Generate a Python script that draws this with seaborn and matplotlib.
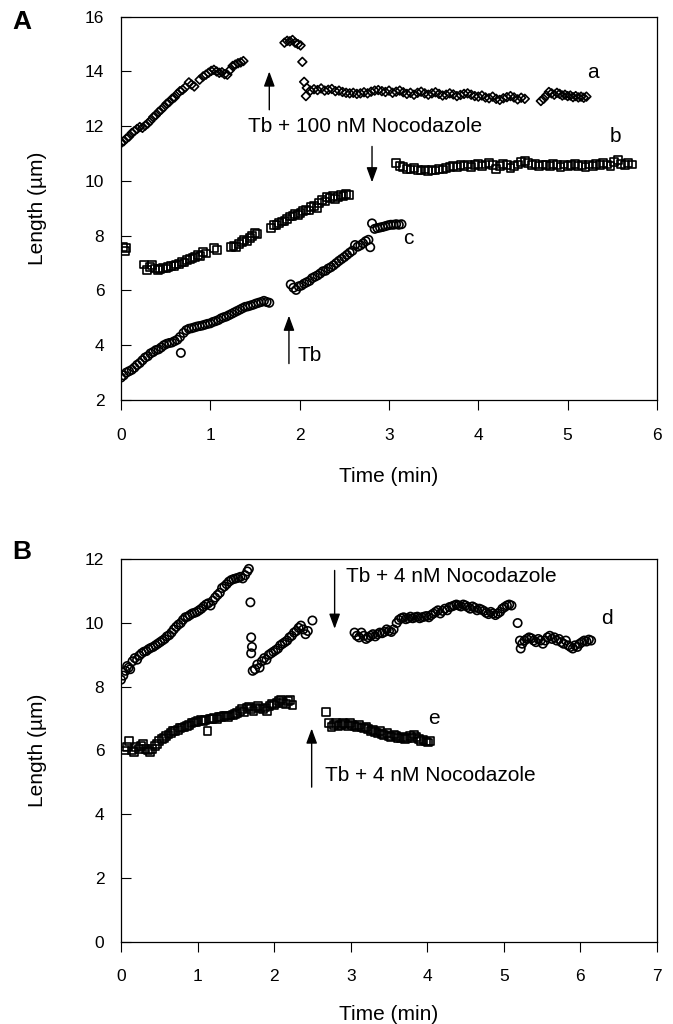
import matplotlib
matplotlib.use("Agg")
import matplotlib.pyplot as plt
import seaborn as sns
import pandas as pd

# ---------------- Panel A data ----------------
a_time = [0.00,0.03,0.06,0.09,0.12,0.15,0.18,0.21,0.24,0.27,0.30,0.33,0.36,0.39,0.42,0.45,0.48,0.51,0.54,0.57,
          0.60,0.63,0.66,0.69,0.72,0.76,0.79,0.82,0.88,0.92,0.95,0.98,1.01,1.04,1.07,1.10,1.13,1.16,1.19,1.22,
          1.25,1.28,1.31,1.34,1.37,
          1.83,1.86,1.89,1.92,1.95,1.98,2.01,2.03,2.05,2.07,
          2.08,2.12,2.16,2.20,2.24,2.28,2.32,2.36,2.40,2.44,2.48,2.52,2.56,2.60,2.64,2.68,2.72,2.76,2.80,2.84,
          2.88,2.92,2.96,3.00,3.04,3.08,3.12,3.16,3.20,3.24,3.28,3.32,3.36,3.40,3.44,3.48,3.52,3.56,3.60,3.64,
          3.68,3.72,3.76,3.80,3.84,3.88,3.92,3.96,4.00,4.04,4.08,4.12,4.16,4.20,4.24,4.28,4.32,4.36,4.40,4.44,
          4.48,4.52,
          4.70,4.73,4.76,4.79,4.82,4.85,4.88,4.91,4.94,4.97,5.00,5.03,5.06,5.09,5.12,5.15,5.18,5.21]
a_len = [11.38,11.45,11.55,11.62,11.75,11.82,11.90,11.97,11.94,12.02,12.10,12.20,12.33,12.40,12.52,12.60,12.70,12.82,12.88,13.00,
         13.05,13.18,13.28,13.33,13.42,13.60,13.52,13.45,13.70,13.82,13.88,13.95,14.02,14.06,14.00,13.95,13.97,13.90,13.88,14.05,
         14.20,14.25,14.30,14.33,14.38,
         15.05,15.12,15.10,15.15,15.05,15.00,14.95,14.35,13.62,13.10,
         13.40,13.30,13.35,13.32,13.38,13.30,13.33,13.36,13.28,13.30,13.25,13.22,13.20,13.22,13.18,13.20,13.24,13.20,13.26,13.30,
         13.32,13.28,13.25,13.30,13.22,13.26,13.30,13.24,13.18,13.22,13.15,13.22,13.26,13.20,13.15,13.20,13.24,13.18,13.12,13.15,
         13.20,13.16,13.10,13.14,13.18,13.20,13.15,13.10,13.08,13.12,13.05,13.02,13.08,13.00,12.96,13.02,13.06,13.10,13.05,12.98,
         13.04,13.00,
         12.92,13.00,13.12,13.25,13.20,13.15,13.22,13.18,13.12,13.15,13.10,13.12,13.06,13.10,13.05,13.08,13.04,13.08]

b_time = [0.02,0.04,0.06,
          0.26,0.29,0.32,0.35,0.38,0.41,0.44,0.47,0.50,0.53,0.56,0.59,0.62,0.65,0.68,0.71,0.74,0.77,0.80,0.83,
          0.86,0.89,0.92,0.95,1.04,1.07,
          1.23,1.26,1.29,1.32,1.35,1.38,1.41,1.44,1.47,1.50,1.52,
          1.68,1.71,1.74,1.77,1.80,1.83,1.86,1.89,1.92,1.95,1.98,2.01,2.04,2.07,2.10,2.13,2.16,2.19,2.22,2.25,
          2.28,2.31,2.34,2.37,2.40,2.43,2.46,2.49,2.52,2.55,
          3.08,3.12,3.16,3.20,3.24,3.28,3.32,3.36,3.40,3.44,3.48,3.52,3.56,3.60,3.64,3.68,3.72,3.76,3.80,3.84,
          3.88,3.92,3.96,4.00,4.04,4.08,4.12,4.16,4.20,4.24,4.28,4.32,4.36,4.40,4.44,4.48,4.52,4.56,4.60,4.64,
          4.68,4.72,4.76,4.80,4.84,4.88,4.92,4.96,5.00,5.04,5.08,5.12,5.16,5.20,5.24,5.28,5.32,5.36,5.40,5.44,
          5.48,5.52,5.56,5.60,5.64,5.68,5.72]
b_len = [7.58,7.45,7.55,
         6.95,6.75,6.85,6.92,6.80,6.75,6.78,6.82,6.80,6.85,6.90,6.88,6.95,6.98,7.05,7.02,7.10,7.15,7.20,7.22,
         7.30,7.25,7.40,7.35,7.55,7.48,
         7.58,7.62,7.60,7.70,7.78,7.85,7.82,7.92,8.00,8.10,8.05,
         8.28,8.38,8.40,8.45,8.52,8.55,8.62,8.70,8.72,8.78,8.75,8.82,8.90,8.95,8.92,9.05,9.10,9.02,9.20,9.30,
         9.25,9.40,9.38,9.45,9.35,9.42,9.48,9.45,9.52,9.50,
         10.65,10.55,10.50,10.45,10.42,10.48,10.40,10.38,10.42,10.35,10.40,10.38,10.45,10.42,10.48,10.50,10.55,10.52,10.58,10.55,
         10.60,10.52,10.58,10.62,10.55,10.60,10.65,10.58,10.45,10.55,10.62,10.58,10.48,10.55,10.60,10.68,10.72,10.65,10.58,10.62,
         10.55,10.60,10.58,10.55,10.62,10.58,10.52,10.60,10.55,10.58,10.62,10.55,10.58,10.52,10.60,10.55,10.62,10.58,10.65,10.60,
         10.55,10.70,10.75,10.62,10.58,10.65,10.60]

c_time = [0.00,0.03,0.06,0.09,0.12,0.15,0.18,0.21,0.24,0.27,0.30,0.33,0.36,0.39,0.42,0.45,0.48,0.51,0.54,0.57,
          0.60,0.63,0.66,0.67,0.70,0.73,0.76,0.79,0.82,0.85,0.88,0.91,0.94,0.97,1.00,1.03,1.06,1.09,1.12,1.15,
          1.18,1.21,1.24,1.27,1.30,1.33,1.36,1.39,1.42,1.45,1.48,1.51,1.54,1.57,1.60,1.63,1.66,
          1.90,1.93,1.96,1.99,2.02,2.05,2.08,2.11,2.14,2.17,2.20,2.23,2.26,2.29,2.32,2.35,2.38,2.41,2.44,2.47,
          2.50,2.53,2.56,2.59,2.62,2.65,2.68,2.71,2.74,2.77,2.79,2.81,2.84,2.87,2.90,2.93,2.96,2.99,3.02,3.05,
          3.08,3.11,3.14]
c_len = [2.82,2.90,3.00,3.05,3.10,3.18,3.28,3.35,3.45,3.55,3.60,3.70,3.75,3.82,3.85,3.92,4.00,4.05,4.08,4.10,
         4.15,4.20,4.30,3.72,4.45,4.55,4.60,4.62,4.65,4.68,4.70,4.72,4.75,4.78,4.80,4.85,4.88,4.92,4.98,5.02,
         5.05,5.10,5.15,5.20,5.25,5.30,5.35,5.40,5.42,5.45,5.48,5.52,5.55,5.58,5.62,5.58,5.55,
         6.22,6.10,6.02,6.15,6.18,6.25,6.30,6.35,6.45,6.50,6.55,6.62,6.70,6.72,6.80,6.85,6.92,7.00,7.08,7.15,
         7.22,7.30,7.38,7.45,7.66,7.60,7.65,7.72,7.80,7.85,7.58,8.45,8.25,8.28,8.30,8.32,8.35,8.38,8.40,8.40,
         8.42,8.40,8.42]

# ---------------- Panel B data ----------------
d_time = [0.00,0.03,0.06,0.08,0.10,0.12,0.15,0.18,0.21,0.24,0.27,0.30,0.33,0.36,0.39,0.42,0.45,0.48,0.51,0.54,
          0.57,0.60,0.63,0.66,0.69,0.72,0.75,0.78,0.81,0.84,0.87,0.90,0.93,0.96,0.99,1.02,1.05,1.08,1.11,1.14,
          1.17,1.20,1.23,1.26,1.29,1.32,1.35,1.38,1.41,1.44,1.47,1.50,1.53,1.56,1.59,1.62,1.65,1.67,
          1.69,1.70,1.71,1.70,1.72,1.75,1.78,1.81,1.84,1.87,1.90,1.93,1.96,1.99,2.02,2.05,2.08,2.11,2.14,2.17,
          2.20,2.23,2.26,2.29,2.32,2.35,2.38,2.41,2.44,2.50,
          3.05,3.08,3.11,3.14,3.17,3.20,3.23,3.26,3.29,3.32,3.35,3.38,3.41,3.44,3.47,3.50,3.53,3.56,3.60,3.63,
          3.66,3.69,3.72,3.75,3.78,3.81,3.84,3.87,3.90,3.93,3.96,3.99,4.02,4.05,4.08,4.11,4.14,4.17,4.20,4.23,
          4.26,4.29,4.32,4.35,4.38,4.41,4.44,4.47,4.50,4.53,4.56,4.59,4.62,4.65,4.68,4.71,4.74,4.77,4.80,4.83,
          4.86,4.89,4.92,4.95,4.98,5.01,5.04,5.07,5.10,
          5.18,5.21,5.22,5.24,5.27,5.30,5.33,5.36,5.39,5.42,5.45,5.48,5.51,5.54,5.57,5.60,5.63,5.66,5.69,5.72,
          5.75,5.78,5.81,5.84,5.87,5.90,5.93,5.96,5.99,6.02,6.05,6.08,6.11,6.14]
d_len = [8.22,8.35,8.50,8.65,8.60,8.55,8.80,8.90,8.85,8.98,9.05,9.10,9.12,9.18,9.22,9.25,9.30,9.35,9.40,9.45,
         9.50,9.58,9.62,9.70,9.80,9.88,9.95,10.00,10.10,10.18,10.20,10.25,10.30,10.32,10.35,10.40,10.45,10.52,10.58,10.62,
         10.55,10.70,10.80,10.88,10.95,11.10,11.15,11.22,11.30,11.35,11.38,11.40,11.42,11.45,11.40,11.50,11.62,11.70,
         10.65,9.55,9.25,9.05,8.50,8.55,8.70,8.60,8.80,8.90,8.85,9.00,9.05,9.10,9.15,9.20,9.30,9.35,9.40,9.45,
         9.55,9.60,9.70,9.75,9.85,9.92,9.80,9.65,9.75,10.08,
         9.70,9.60,9.55,9.70,9.60,9.50,9.55,9.60,9.65,9.58,9.65,9.70,9.68,9.72,9.80,9.75,9.72,9.80,10.00,10.10,
         10.15,10.18,10.12,10.15,10.20,10.15,10.18,10.20,10.15,10.18,10.20,10.22,10.18,10.25,10.30,10.35,10.40,10.30,10.38,10.45,
         10.40,10.50,10.52,10.55,10.58,10.55,10.52,10.58,10.55,10.50,10.45,10.52,10.48,10.40,10.45,10.42,10.38,10.32,10.28,10.35,
         10.30,10.25,10.30,10.35,10.45,10.50,10.55,10.58,10.55,
         10.00,9.45,9.20,9.35,9.45,9.50,9.55,9.52,9.45,9.40,9.50,9.45,9.35,9.45,9.55,9.60,9.50,9.55,9.45,9.50,
         9.40,9.35,9.45,9.30,9.25,9.20,9.30,9.25,9.35,9.40,9.45,9.42,9.48,9.45]

e_time = [0.05,0.08,0.11,0.14,0.17,0.20,0.23,0.26,0.29,0.32,0.35,0.38,0.41,0.44,0.47,0.50,0.53,0.56,0.59,0.62,
          0.65,0.68,0.71,0.74,0.77,0.80,0.83,0.86,0.89,0.92,0.95,0.98,1.01,1.04,1.07,1.10,1.13,1.16,1.19,1.22,
          1.25,1.28,1.31,1.34,1.37,1.40,1.43,1.46,1.49,1.52,1.55,1.58,1.61,1.64,1.67,1.70,1.73,1.76,1.79,1.82,
          1.85,1.88,1.91,1.94,1.97,2.00,2.03,2.06,2.09,2.12,2.15,2.18,2.21,2.24,
          2.68,2.72,2.75,2.78,2.81,2.84,2.87,2.90,2.93,2.96,2.99,3.02,3.05,3.08,3.11,3.14,3.17,3.20,3.23,3.26,
          3.29,3.32,3.35,3.38,3.41,3.44,3.47,3.50,3.53,3.56,3.59,3.62,3.65,3.68,3.71,3.74,3.77,3.80,3.83,3.86,
          3.89,3.92,3.95,3.98,4.01,4.04]
e_len = [6.00,6.10,6.30,6.00,5.95,6.10,6.05,6.15,6.20,6.05,6.00,5.95,6.05,6.15,6.20,6.30,6.35,6.40,6.45,6.50,
         6.55,6.60,6.62,6.65,6.70,6.72,6.75,6.78,6.80,6.85,6.88,6.90,6.92,6.95,6.92,6.95,6.60,6.98,7.00,7.02,
         7.00,7.05,7.05,7.08,7.10,7.05,7.10,7.12,7.15,7.18,7.25,7.30,7.22,7.35,7.38,7.30,7.25,7.35,7.40,7.32,
         7.30,7.35,7.25,7.40,7.45,7.42,7.48,7.55,7.60,7.50,7.45,7.55,7.58,7.42,
         7.22,6.85,6.75,6.80,6.85,6.78,6.80,6.85,6.82,6.78,6.85,6.80,6.78,6.75,6.80,6.72,6.70,6.75,6.68,6.62,
         6.65,6.58,6.55,6.60,6.52,6.48,6.55,6.45,6.42,6.50,6.45,6.40,6.38,6.42,6.35,6.40,6.45,6.38,6.50,6.42,
         6.35,6.30,6.32,6.28,6.25,6.30]

xticks_a = [0, 1, 2, 3, 4, 5, 6]
yticks_a = [2, 4, 6, 8, 10, 12, 14, 16]
xticks_b = [0, 1, 2, 3, 4, 5, 6, 7]
yticks_b = [0, 2, 4, 6, 8, 10, 12]

sns.set_theme(style="ticks")
plt.rcParams["font.family"] = ["Liberation Sans", "DejaVu Sans"]
for k in ["text.color", "axes.labelcolor", "xtick.color", "ytick.color", "axes.edgecolor"]:
    plt.rcParams[k] = "black"

fig = plt.figure(figsize=(6.73, 10.24), dpi=100)
axA = fig.add_axes([0.1798, 0.6094, 0.7964, 0.3743])
axB = fig.add_axes([0.1798, 0.0804, 0.7964, 0.3734])

def pts(ax, t, y, marker, size):
    df = pd.DataFrame({"Time": t, "Length": y})
    sns.scatterplot(data=df, x="Time", y="Length", ax=ax, marker=marker, s=size,
                    fc="none", ec="black", linewidth=1.2, legend=False, zorder=3)

pts(axA, a_time, a_len, "D", 20)
pts(axA, b_time, b_len, "s", 32)
pts(axA, c_time, c_len, "o", 36)
pts(axB, d_time, d_len, "o", 36)
pts(axB, e_time, e_len, "s", 32)

def style(ax, xt, yt, xlab_y):
    ax.set_xlim(xt[0], xt[-1])
    ax.set_ylim(yt[0], yt[-1])
    ax.set_xticks(xt)
    ax.set_yticks(yt)
    for sp in ax.spines.values():
        sp.set_visible(True)
        sp.set_color("black")
        sp.set_linewidth(0.9)
    ax.tick_params(axis="y", direction="in", length=7, width=0.8, pad=12, labelsize=12.5, colors="black")
    ax.tick_params(axis="x", direction="out", length=7, width=0.8, pad=13, labelsize=12.5, colors="black")
    ax.set_xlabel("Time (min)", fontsize=15, color="black")
    ax.set_ylabel("Length (\u00b5m)", fontsize=15, color="black")
    ax.xaxis.set_label_coords(0.5, xlab_y)
    ax.yaxis.set_label_coords(-0.138, 0.5)

style(axA, xticks_a, yticks_a, -0.175)
style(axB, xticks_b, yticks_b, -0.166)

arrow_kw = dict(arrowstyle="-|>,head_length=0.9,head_width=0.33", color="black", lw=1.0,
                mutation_scale=10, shrinkA=0, shrinkB=0)

# Panel A annotations
axA.annotate("", xy=(1.66, 14.0), xytext=(1.66, 12.6), arrowprops=arrow_kw)
axA.text(1.42, 12.0, "Tb + 100 nM Nocodazole", fontsize=15, va="center", ha="left")
axA.annotate("", xy=(2.81, 9.95), xytext=(2.81, 11.26), arrowprops=arrow_kw)
axA.annotate("", xy=(1.88, 5.08), xytext=(1.88, 3.33), arrowprops=arrow_kw)
axA.text(1.98, 3.63, "Tb", fontsize=15, va="center", ha="left")
axA.text(5.28, 13.95, "a", fontsize=15, va="center", ha="center")
axA.text(5.54, 11.63, "b", fontsize=15, va="center", ha="center")
axA.text(3.22, 7.88, "c", fontsize=15, va="center", ha="center")

# Panel B annotations
axB.annotate("", xy=(2.79, 9.82), xytext=(2.79, 11.65), arrowprops=arrow_kw)
axB.text(2.94, 11.46, "Tb + 4 nM Nocodazole", fontsize=15, va="center", ha="left")
axB.annotate("", xy=(2.49, 6.69), xytext=(2.49, 4.85), arrowprops=arrow_kw)
axB.text(2.67, 5.22, "Tb + 4 nM Nocodazole", fontsize=15, va="center", ha="left")
axB.text(6.34, 10.14, "d", fontsize=15, va="center", ha="center")
axB.text(4.09, 7.0, "e", fontsize=15, va="center", ha="center")

fig.text(12 / 673, 1 - 22 / 1024, "A", fontsize=19, fontweight="bold", va="center", ha="left")
fig.text(12 / 673, 1 - 552 / 1024, "B", fontsize=19, fontweight="bold", va="center", ha="left")

fig.savefig("out.png", dpi=100, facecolor="white")
